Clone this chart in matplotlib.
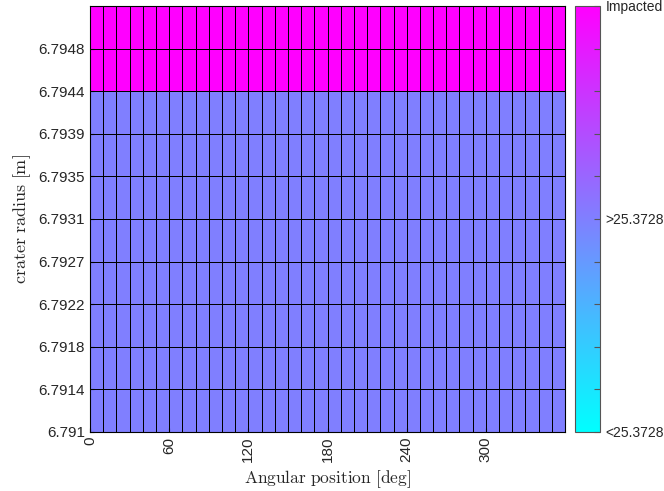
import numpy as np
import matplotlib.pyplot as plt

plt.rcParams['font.family'] = ['Liberation Sans', 'DejaVu Sans']
plt.rcParams['mathtext.fontset'] = 'cm'

# grid edges
theta_edges = np.arange(0, 361, 10)          # 36 columns of 10 deg
r_ticks = [6.791, 6.7914, 6.7918, 6.7922, 6.7927, 6.7931, 6.7935, 6.7939, 6.7944, 6.7948]
r_step = 0.000422
r_edges = [6.791 + i * r_step for i in range(11)]

# cell status per row (bottom -> top): 0 = <thr, 0.5 = >thr, 1 = impacted
row_status = [0.5, 0.5, 0.5, 0.5, 0.5, 0.5, 0.5, 0.5, 1.0, 1.0]
cbar_labels = ['<25.3728', '>25.3728', 'Impacted']
xticks = [0, 60, 120, 180, 240, 300]

Z = np.array([[s] * (len(theta_edges) - 1) for s in row_status])

fig = plt.figure(figsize=(6.64, 4.91), dpi=100)
ax = fig.add_axes([0.1355, 0.1202, 0.7155, 0.8676])
cax = fig.add_axes([0.866, 0.1202, 0.0377, 0.8676])

mesh = ax.pcolormesh(theta_edges, r_edges, Z, cmap='cool', vmin=0, vmax=1,
                     edgecolors='k', linewidth=0.7)
ax.set_xlim(0, 360)
ax.set_ylim(r_edges[0], r_edges[-1])
ax.set_xticks(xticks)
ax.set_xticklabels([str(x) for x in xticks], rotation=90, fontsize=11, color='#262626')
ax.set_yticks(r_edges[:10])
ax.set_yticklabels([str(r) for r in r_ticks], fontsize=11, color='#262626')
ax.tick_params(direction='in', length=3, top=False, right=False)
ax.set_xlabel(r'$\mathrm{Angular\ position\ [deg]}$', fontsize=12.5, color='#262626')
ax.set_ylabel(r'$\mathrm{crater\ radius\ [m]}$', fontsize=13, color='#262626')

cb = fig.colorbar(mesh, cax=cax)
cb.set_ticks(np.linspace(0, 1, 11))
cb.set_ticklabels([cbar_labels[0], '', '', '', '', cbar_labels[1], '', '', '', '', cbar_labels[2]])
cax.tick_params(direction='in', length=4, labelsize=10, labelcolor='#262626',
                color='#555555', pad=4)
cb.outline.set_edgecolor('#555555')

fig.savefig('out.png', dpi=100)
